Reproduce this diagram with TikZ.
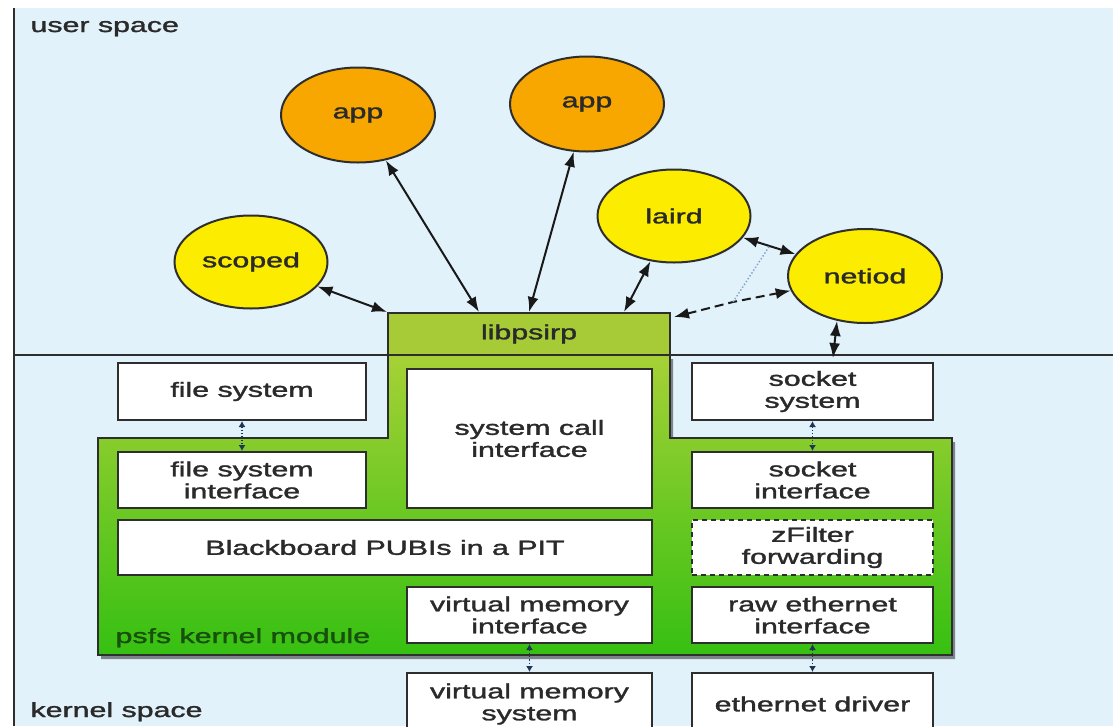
\documentclass[tikz,border=0pt]{standalone}
\usepackage{fontspec}
\setmainfont{Liberation Sans}[BoldFont={Liberation Sans},BoldFeatures={FakeBold=1.3}]
\usepackage{graphicx}
\usetikzlibrary{shapes.geometric,arrows.meta,shadows,calc}
\definecolor{bgblue}{HTML}{E2F2FA}
\definecolor{txtc}{HTML}{2A2A2A}
\definecolor{linec}{HTML}{2E2E2E}
\definecolor{orangefill}{HTML}{F8A700}
\definecolor{yellowfill}{HTML}{FBEC00}
\definecolor{libgreen}{HTML}{A6CB36}
\definecolor{modtop}{HTML}{A6D136}
\definecolor{modbot}{HTML}{36C012}
\definecolor{modtext}{HTML}{17500C}
\definecolor{navy}{HTML}{1F3558}
\definecolor{dotblue}{HTML}{7E9FCB}
\newcommand{\sx}[1]{\scalebox{1.48}[1]{#1}}
\begin{document}
\begin{tikzpicture}[x=1pt,y=-1pt,
  lbl/.style={font=\fontsize{20.5}{22}\selectfont\bfseries, text=txtc, align=center},
  bubble/.style={ellipse, draw=linec, line width=2pt, inner sep=0pt, lbl},
  appnode/.style={bubble, fill=orangefill, minimum width=154pt, minimum height=95pt},
  daemon/.style={bubble, fill=yellowfill, minimum width=153pt, minimum height=93pt},
  wbox/.style={rectangle, draw=linec, line width=2pt, fill=white, inner sep=0pt, lbl},
  dbox/.style={wbox, dashed, dash pattern=on 5pt off 4pt},
  libbox/.style={rectangle, draw=linec, line width=2pt, fill=libgreen, inner sep=0pt, lbl},
  module/.style={draw=linec, line width=2pt, top color=modtop, bottom color=modbot,
     drop shadow={shadow xshift=3pt, shadow yshift=-4pt, fill=black, opacity=0.45}},
  bigarrow/.style={draw=black!90, line width=2pt,
     {Latex[length=15pt,width=11pt]}-{Latex[length=15pt,width=11pt]}},
  smallarrow/.style={draw=navy, line width=1.3pt, dotted,
     {Latex[length=6pt,width=7pt]}-{Latex[length=6pt,width=7pt]}},
  dashedarrow/.style={bigarrow, dash pattern=on 9pt off 5pt},
  blueline/.style={draw=dotblue, line width=1.4pt, dotted}
]
\useasboundingbox (0,0) rectangle (1113,726);
\clip (0,0) rectangle (1113,726);
\fill[white] (0,0) rectangle (1113,726);
\fill[bgblue] (14,8) rectangle (1113,726);
\draw[linec, line width=2pt] (14,8) -- (14,726);
\draw[linec, line width=1.6pt] (14,355) -- (1113,355);

\node[lbl, anchor=base west] (us) at (27,32) {\sx{user space}};
\node[lbl, anchor=base west] (ks) at (27,717) {\sx{kernel space}};

% kernel module
\path[module] (98,438) -- (388,438) -- (388,355) -- (670,355) -- (670,438)
   -- (952,438) -- (952,655) -- (98,655) -- cycle;
\node[lbl, anchor=base west, text=modtext] (psfs) at (112,643) {\sx{psfs kernel module}};

\node[libbox, minimum width=282pt, minimum height=42pt] (lib) at (529,334) {\sx{libpsirp}};

% user-space processes
\node[appnode] (app1) at (358,115) {\sx{app}};
\node[appnode] (app2) at (587,104) {\sx{app}};
\node[daemon] (laird) at (674,216) {\sx{laird}};
\node[daemon] (scoped) at (251,262) {\sx{scoped}};
\node[daemon, minimum width=154pt, minimum height=94pt] (netiod) at (865,276) {\sx{netiod}};

% boxes
\node[wbox, minimum width=248pt, minimum height=57pt] (fs) at (242,391.5) {\sx{file system}};
\node[wbox, minimum width=248pt, minimum height=56pt] (fsi) at (242,480) {\sx{file system}\\\sx{interface}};
\node[wbox, minimum width=245pt, minimum height=139pt] (sci) at (529.5,438.5) {\sx{system call}\\\sx{interface}};
\node[wbox, minimum width=534pt, minimum height=55pt] (bb) at (385,547.5) {\sx{Blackboard PUBIs in a PIT}};
\node[wbox, minimum width=245pt, minimum height=56pt] (vmi) at (529.5,615) {\sx{virtual memory}\\\sx{interface}};
\node[wbox, minimum width=245pt, minimum height=62pt] (vms) at (529.5,704) {\sx{virtual memory}\\\sx{system}};
\node[wbox, minimum width=241pt, minimum height=57pt] (ss) at (812.5,391.5) {\sx{socket}\\\sx{system}};
\node[wbox, minimum width=241pt, minimum height=56pt] (si) at (812.5,480) {\sx{socket}\\\sx{interface}};
\node[dbox, minimum width=241pt, minimum height=55pt] (zf) at (812.5,547.5) {\sx{zFilter}\\\sx{forwarding}};
\node[wbox, minimum width=241pt, minimum height=56pt] (rei) at (812.5,615) {\sx{raw ethernet}\\\sx{interface}};
\node[wbox, minimum width=241pt, minimum height=62pt] (ed) at (812.5,704) {\sx{ethernet driver}};

% connectors
\draw[bigarrow] (scoped) -- (lib.north west);
\draw[bigarrow] (app1) -- ([xshift=92pt]lib.north west);
\draw[bigarrow] (app2) -- ([xshift=142pt]lib.north west);
\draw[bigarrow] (laird) -- ([xshift=237pt]lib.north west);
\draw[bigarrow] (laird) -- (netiod);
\coordinate (dm) at (733,302);
\coordinate (bm) at ($(laird)!0.5!(netiod)$);
\draw[dashedarrow] ([xshift=3pt,yshift=-5pt]lib.north east) -- (dm) -- (netiod);
\draw[blueline] (dm) -- (bm);
\draw[bigarrow, shorten >=4pt] ([xshift=-28pt,yshift=3pt]netiod.south) -- ([xshift=20pt]ss.north);

\draw[smallarrow] (fs.south) -- (fsi.north);
\draw[smallarrow] (ss.south) -- (si.north);
\draw[smallarrow] (vmi.south) -- (vms.north);
\draw[smallarrow] (rei.south) -- (ed.north);
\end{tikzpicture}
\end{document}
